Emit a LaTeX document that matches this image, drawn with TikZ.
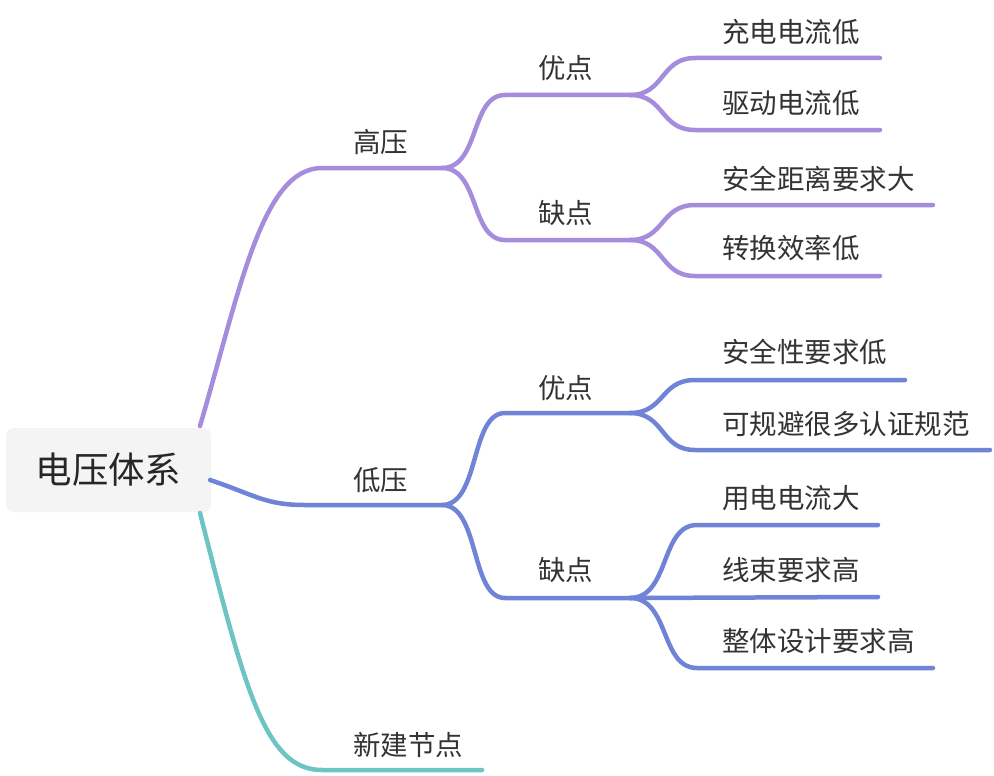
\documentclass[tikz,border=0pt]{standalone}
\usepackage{fontspec}
\setmainfont{Noto Sans CJK SC}
\begin{document}
\begin{tikzpicture}[x=1pt,y=-1pt,
  lbl/.style={anchor=west,inner sep=0pt,text=black!80,font=\fontsize{27.5}{30}\selectfont},
  rootbox/.style={fill=rootfill,rounded corners=8pt,minimum width=205pt,minimum height=84pt,inner sep=0pt,text=black!85,font=\fontsize{36.5}{40}\selectfont},
  br/.style={line width=4.5pt,line cap=round},
  pur/.style={br,draw=cpur},
  blu/.style={br,draw=cblu},
  tea/.style={br,draw=ctea}]
\definecolor{cpur}{HTML}{A58CDC}
\definecolor{cblu}{HTML}{6F83D7}
\definecolor{ctea}{HTML}{6DC4C3}
\definecolor{rootfill}{HTML}{F4F4F4}
\useasboundingbox[fill=white] (0,0) rectangle (994,776);

% root
\node[rootbox] (root) at (108.5,470) {电压体系};
\coordinate (rH) at (200,426);
\coordinate (rL) at (210,480);
\coordinate (rN) at (200,513);

% level 1 lines
\coordinate (hS) at (322,168); \coordinate (hE) at (442,168);
\coordinate (lS) at (305,505); \coordinate (lE) at (442,505);
\coordinate (nS) at (322,770); \coordinate (nE) at (482,770);
\node[lbl] (tH) at (353,142) {高压};
\node[lbl] (tL) at (353,480) {低压};
\node[lbl] (tN) at (353,745) {新建节点};

\draw[pur] (rH) .. controls (240,290) and (262,168) .. (hS) -- (hE);
\draw[blu] (rL) .. controls (255,495) and (265,505) .. (lS) -- (lE);
\draw[tea] (rN) .. controls (245,690) and (265,770) .. (nS) -- (nE);

% level 2 (high)
\coordinate (hyS) at (505,95);  \coordinate (hyE) at (630,95);
\coordinate (hqS) at (505,240); \coordinate (hqE) at (630,240);
\node[lbl] (thy) at (538,68) {优点};
\node[lbl] (thq) at (538,213) {缺点};
\draw[pur] (hE) .. controls (480,168) and (470,95) .. (hyS) -- (hyE);
\draw[pur] (hE) .. controls (480,168) and (470,240) .. (hqS) -- (hqE);

% level 2 (low)
\coordinate (lyS) at (505,413); \coordinate (lyE) at (630,413);
\coordinate (lqS) at (505,598); \coordinate (lqE) at (630,598);
\node[lbl] (tly) at (538,388) {优点};
\node[lbl] (tlq) at (538,570) {缺点};
\draw[blu] (lE) .. controls (480,505) and (470,413) .. (lyS) -- (lyE);
\draw[blu] (lE) .. controls (480,505) and (470,598) .. (lqS) -- (lqE);

% level 3 (high / pros)
\coordinate (a1S) at (695,58);  \coordinate (a1E) at (880,58);
\coordinate (a2S) at (695,130); \coordinate (a2E) at (880,130);
\node[lbl] (ta1) at (722,32) {充电电流低};
\node[lbl] (ta2) at (722,103) {驱动电流低};
\draw[pur] (hyE) .. controls (665,95) and (660,58) .. (a1S) -- (a1E);
\draw[pur] (hyE) .. controls (665,95) and (660,130) .. (a2S) -- (a2E);

% level 3 (high / cons)
\coordinate (b1S) at (695,205); \coordinate (b1E) at (933,205);
\coordinate (b2S) at (695,276); \coordinate (b2E) at (880,276);
\node[lbl] (tb1) at (722,179) {安全距离要求大};
\node[lbl] (tb2) at (722,248) {转换效率低};
\draw[pur] (hqE) .. controls (665,240) and (660,205) .. (b1S) -- (b1E);
\draw[pur] (hqE) .. controls (665,240) and (660,276) .. (b2S) -- (b2E);

% level 3 (low / pros)
\coordinate (c1S) at (695,380); \coordinate (c1E) at (905,380);
\coordinate (c2S) at (695,450); \coordinate (c2E) at (990,450);
\node[lbl] (tc1) at (722,352) {安全性要求低};
\node[lbl] (tc2) at (722,424) {可规避很多认证规范};
\draw[blu] (lyE) .. controls (665,413) and (660,380) .. (c1S) -- (c1E);
\draw[blu] (lyE) .. controls (665,413) and (660,450) .. (c2S) -- (c2E);

% level 3 (low / cons)
\coordinate (d1S) at (697,525); \coordinate (d1E) at (878,525);
\coordinate (d2E) at (878,597);
\coordinate (d3S) at (697,668); \coordinate (d3E) at (933,668);
\node[lbl] (td1) at (722,498) {用电电流大};
\node[lbl] (td2) at (722,570) {线束要求高};
\node[lbl] (td3) at (722,641) {整体设计要求高};
\draw[blu] (lqE) .. controls (670,598) and (660,525) .. (d1S) -- (d1E);
\draw[blu] (lqE) -- (d2E);
\draw[blu] (lqE) .. controls (670,598) and (660,668) .. (d3S) -- (d3E);
\end{tikzpicture}
\end{document}
